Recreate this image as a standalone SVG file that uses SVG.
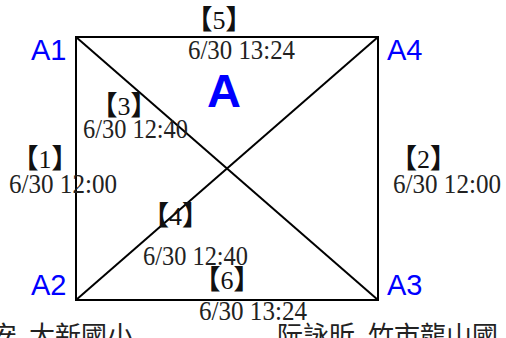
<svg xmlns="http://www.w3.org/2000/svg" width="506" height="338" viewBox="0 0 506 338">
<style>
.edge{stroke:#000;stroke-width:2;fill:none}
.lbl{font-family:"Liberation Sans",Arial,sans-serif;font-size:29px;fill:#0000ff}
.big{font-family:"Liberation Sans",Arial,sans-serif;font-size:47px;font-weight:bold;fill:#0000ff}
.t{font-family:"Liberation Serif","Noto Sans CJK TC",serif;font-size:27.5px;fill:#222}
.b{font-family:"Liberation Serif","Noto Sans CJK TC",serif;font-size:26px;fill:#111;text-anchor:middle}
.br{font-family:"Noto Sans CJK TC",sans-serif;font-size:27px;font-weight:bold}
.cjk{font-family:"Noto Sans CJK TC",sans-serif;font-size:26px;fill:#222}
</style>
<rect width="506" height="338" fill="#fff"/>
<g id="connectors">
<rect class="edge" x="76" y="37" width="302" height="263"/>
<line class="edge" x1="76" y1="37" x2="378" y2="300"/>
<line class="edge" x1="378" y1="37" x2="76" y2="300"/>
</g>
<g id="A1"><text class="lbl" x="31" y="60">A1</text></g>
<g id="A4"><text class="lbl" x="387" y="60">A4</text></g>
<g id="A2"><text class="lbl" x="31" y="295">A2</text></g>
<g id="A3"><text class="lbl" x="387" y="295">A3</text></g>
<g id="A"><text class="big" x="207" y="107">A</text></g>
<g id="e5">
<text class="b" x="219" y="29"><tspan class="br">【</tspan>5<tspan class="br">】</tspan></text>
<text class="t" x="188" y="59" textLength="107" lengthAdjust="spacingAndGlyphs">6/30 13:24</text>
</g>
<g id="e3">
<text class="b" x="124" y="115"><tspan class="br">【</tspan>3<tspan class="br">】</tspan></text>
<text class="t" x="83" y="138" textLength="105" lengthAdjust="spacingAndGlyphs">6/30 12:40</text>
</g>
<g id="e1">
<text class="b" x="45" y="168"><tspan class="br">【</tspan>1<tspan class="br">】</tspan></text>
<text class="t" x="9" y="193" textLength="108" lengthAdjust="spacingAndGlyphs">6/30 12:00</text>
</g>
<g id="e2">
<text class="b" x="423.5" y="168"><tspan class="br">【</tspan>2<tspan class="br">】</tspan></text>
<text class="t" x="393" y="193" textLength="108" lengthAdjust="spacingAndGlyphs">6/30 12:00</text>
</g>
<g id="e4">
<text class="b" x="175.5" y="225"><tspan class="br">【</tspan>4<tspan class="br">】</tspan></text>
<text class="t" x="143" y="265" textLength="105" lengthAdjust="spacingAndGlyphs">6/30 12:40</text>
</g>
<g id="e6">
<text class="b" x="227" y="289"><tspan class="br">【</tspan>6<tspan class="br">】</tspan></text>
<text class="t" x="199" y="320" textLength="108" lengthAdjust="spacingAndGlyphs">6/30 13:24</text>
</g>
<g id="footer">
<text class="cjk" y="345"><tspan x="-9">安</tspan><tspan x="29">大新國小</tspan></text>
<text class="cjk" y="345"><tspan x="277">阮詠昕</tspan><tspan x="368">竹市龍山國</tspan></text>
</g>
</svg>
